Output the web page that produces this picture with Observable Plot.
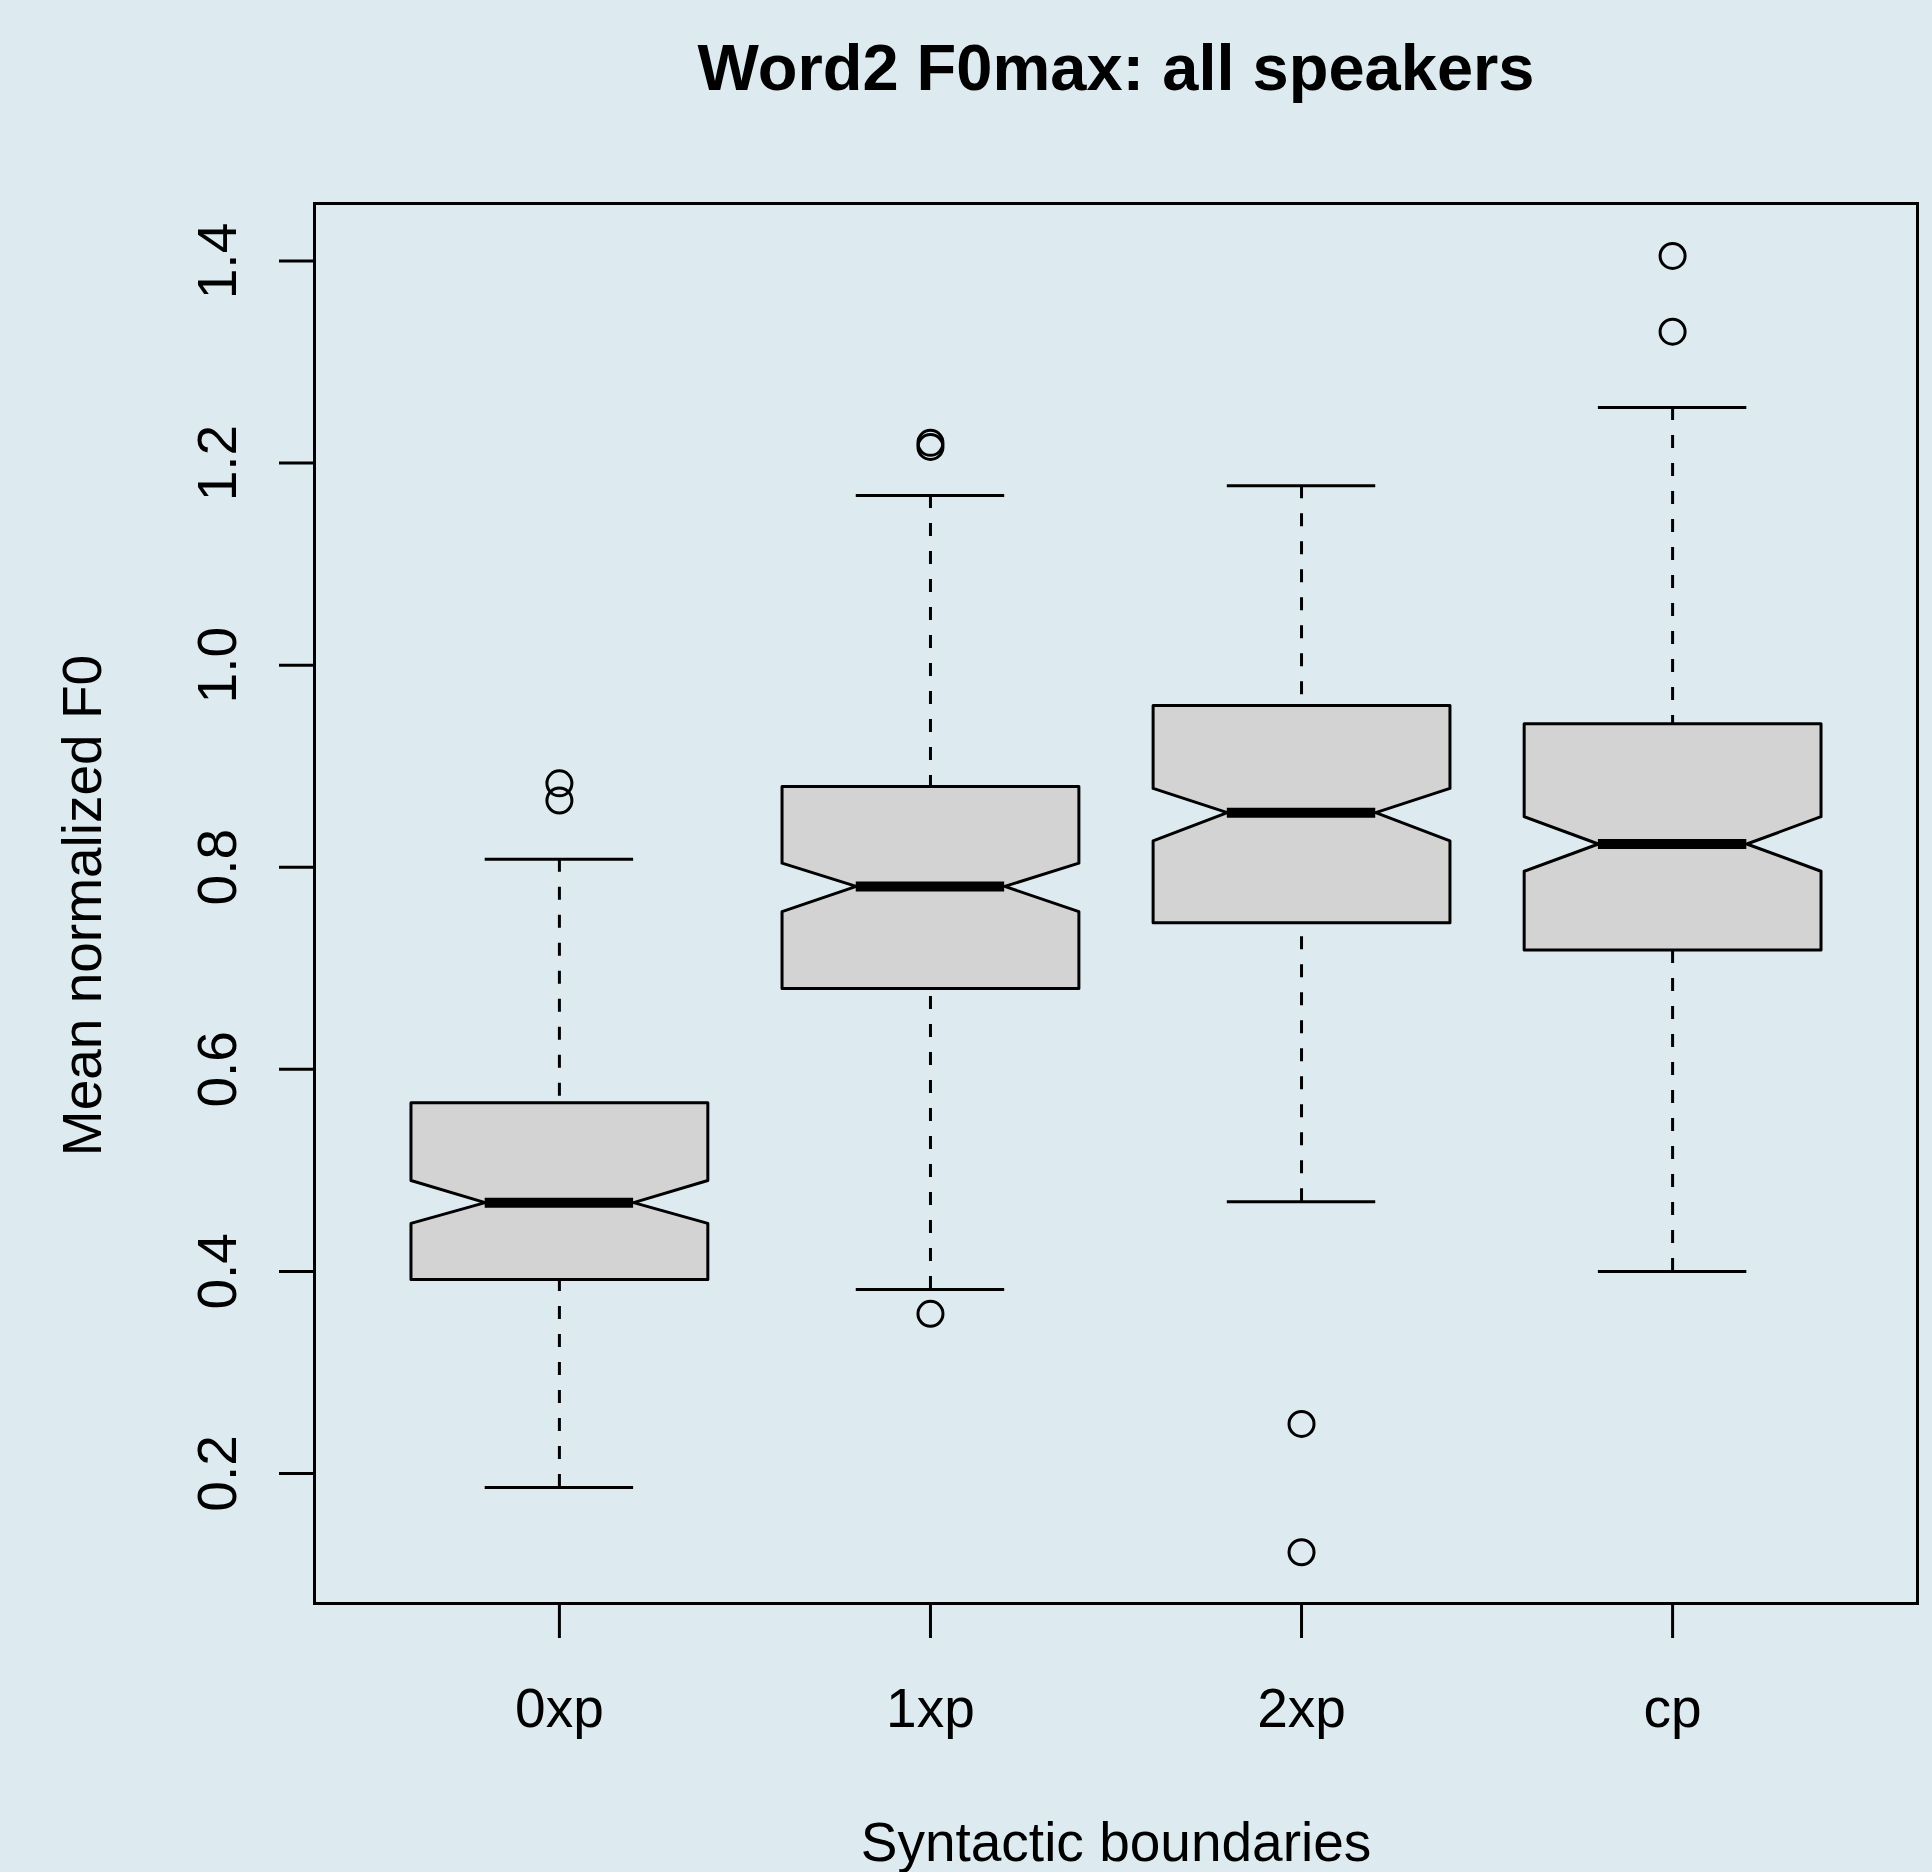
<!DOCTYPE html>
<html>
<head>
<meta charset="utf-8">
<script src="https://cdn.jsdelivr.net/npm/d3@7"></script>
<script src="https://cdn.jsdelivr.net/npm/@observablehq/plot@0.6"></script>
<style>
  html, body { margin: 0; padding: 0; background: #ddebf0; }
  #chart svg { display: block; }
</style>
</head>
<body>
<div id="chart"></div>
<script>
// ---- Data ----
const categories  = ["0xp", "1xp", "2xp", "cp"];
const whiskerLow  = [0.186, 0.382, 0.469, 0.400];
const q1          = [0.392, 0.680, 0.745, 0.718];
const notchLow    = [0.4475, 0.756, 0.826, 0.796];
const median      = [0.468, 0.781, 0.854, 0.823];
const notchHigh   = [0.490, 0.804, 0.878, 0.850];
const q3          = [0.567, 0.880, 0.960, 0.942];
const whiskerHigh = [0.808, 1.168, 1.1775, 1.255];

const outlierGroup = ["0xp", "0xp", "1xp", "1xp", "1xp", "2xp", "2xp", "cp", "cp"];
const outlierValue = [0.883, 0.866, 1.220, 1.216, 0.358, 0.249, 0.122, 1.405, 1.330];

const yTicks = [0.2, 0.4, 0.6, 0.8, 1.0, 1.2, 1.4];

const title = "Word2 F0max: all speakers";
const xLabel = "Syntactic boundaries";
const yLabel = "Mean normalized F0";

// ---- Build tables ----
const halfW = 0.4;   // box half width (boxwex 0.8)
const stats = categories.map((c, i) => ({
  cat: c, pos: i + 1,
  wlo: whiskerLow[i], q1: q1[i], nlo: notchLow[i], med: median[i],
  nhi: notchHigh[i], q3: q3[i], whi: whiskerHigh[i]
}));

const poly = stats.flatMap(s => {
  const L = s.pos - halfW, R = s.pos + halfW, Li = s.pos - halfW / 2, Ri = s.pos + halfW / 2;
  return [
    [L, s.q1], [L, s.nlo], [Li, s.med], [L, s.nhi], [L, s.q3],
    [R, s.q3], [R, s.nhi], [Ri, s.med], [R, s.nlo], [R, s.q1], [L, s.q1]
  ].map(([x, y]) => ({cat: s.cat, x, y}));
});

const outliers = outlierValue.map((v, i) => ({pos: categories.indexOf(outlierGroup[i]) + 1, v}));

const font = "'Liberation Sans', Arial, Helvetica, sans-serif";

const chart = Plot.plot({
  width: 1932,
  height: 1872,
  marginLeft: 314,
  marginRight: 15,
  marginTop: 203,
  marginBottom: 269,
  style: {background: "#ddebf0", fontFamily: font, fontSize: "55px", color: "black"},
  x: {type: "linear", domain: [0.34, 4.66], axis: null},
  y: {type: "linear", domain: [0.0713, 1.4569], axis: null},
  marks: [
    // boxes (notched)
    Plot.line(poly, {x: "x", y: "y", z: "cat", fill: "#d3d3d3", stroke: "black", strokeWidth: 3,
      strokeLinejoin: "round"}),
    // whiskers
    Plot.ruleX(stats, {x: "pos", y1: "whi", y2: "q3", stroke: "black", strokeWidth: 3,
      strokeDasharray: "13,15", strokeLinecap: "butt"}),
    Plot.ruleX(stats, {x: "pos", y1: "wlo", y2: "q1", stroke: "black", strokeWidth: 3,
      strokeDasharray: "13,15", strokeLinecap: "butt"}),
    // staples
    Plot.ruleY(stats, {y: "whi", x1: d => d.pos - halfW / 2, x2: d => d.pos + halfW / 2, stroke: "black", strokeWidth: 3}),
    Plot.ruleY(stats, {y: "wlo", x1: d => d.pos - halfW / 2, x2: d => d.pos + halfW / 2, stroke: "black", strokeWidth: 3}),
    // medians
    Plot.ruleY(stats, {y: "med", x1: d => d.pos - halfW / 2, x2: d => d.pos + halfW / 2, stroke: "black", strokeWidth: 10,
      strokeLinecap: "butt"}),
    // outliers
    Plot.dot(outliers, {x: "pos", y: "v", r: 12.5, stroke: "black", strokeWidth: 3, fill: "none"}),
    // frame
    Plot.frame({stroke: "black", strokeWidth: 3}),
    // axes
    Plot.axisY({ticks: yTicks, tickSize: 35, tickPadding: 44, tickRotate: -90, tickFormat: d3.format(".1f"),
      strokeWidth: 3, fontSize: 55, label: null}),
    Plot.axisX({ticks: [1, 2, 3, 4], tickSize: 35, tickPadding: 49, tickFormat: d => categories[d - 1],
      strokeWidth: 3, fontSize: 55, label: null}),
    // axis titles
    Plot.text([xLabel], {frameAnchor: "bottom", dy: 257, lineAnchor: "bottom", textAnchor: "middle",
      text: d => d, fontSize: 55}),
    Plot.text([yLabel], {frameAnchor: "left", dx: -214, dy: 2, rotate: -90, lineAnchor: "bottom", textAnchor: "middle",
      text: d => d, fontSize: 55}),
    // title
    Plot.text([title], {frameAnchor: "top", dy: -114, lineAnchor: "bottom", textAnchor: "middle",
      text: d => d, fontSize: 65, fontWeight: "bold"})
  ]
});
document.getElementById("chart").appendChild(chart);
</script>
</body>
</html>
